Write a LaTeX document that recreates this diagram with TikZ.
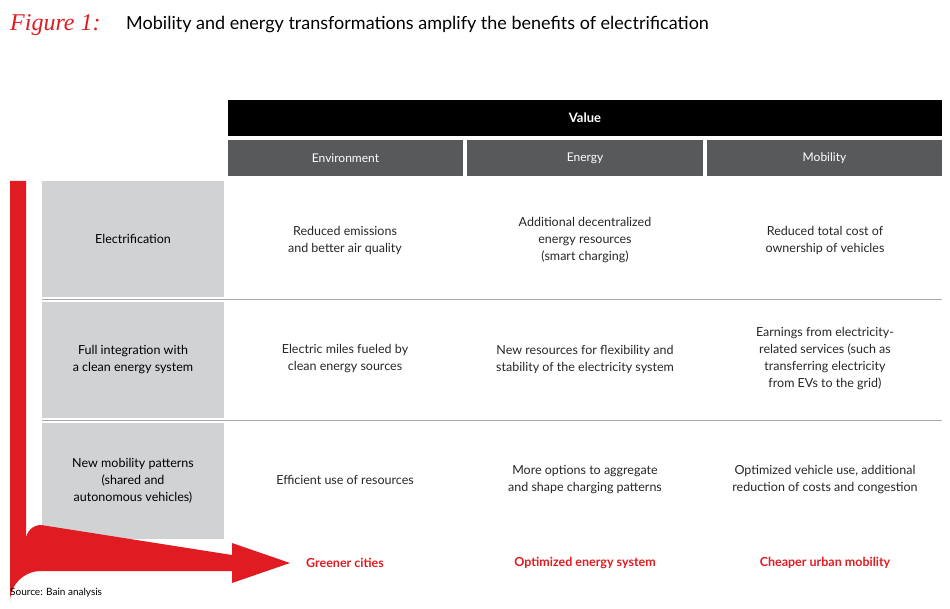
\documentclass[tikz,border=0pt]{standalone}
\usepackage{fontspec}
\setmainfont{Lato}
\newfontfamily\scriptf{Liberation Serif}
\usetikzlibrary{positioning}
\definecolor{bred}{HTML}{E11B22}
\definecolor{dgrey}{HTML}{58595B}
\definecolor{lgrey}{HTML}{D1D2D4}
\definecolor{lineg}{HTML}{A7A9AC}
\tikzset{
 hdr/.style={fill=dgrey,text=white,minimum height=36pt,inner sep=0pt,font=\fontsize{12}{14}\selectfont},
 rowlab/.style={fill=lgrey,minimum width=182pt,minimum height=116pt,inner sep=0pt,align=center,font=\fontsize{12.5}{17}\selectfont},
 cell/.style={align=center,font=\fontsize{12.5}{17}\selectfont,text=black!85},
 outc/.style={text=bred,font=\bfseries\fontsize{12.5}{15}\selectfont},
}
\begin{document}
\begin{tikzpicture}[x=1pt,y=-1pt]
\useasboundingbox (0,0) rectangle (950,609);
\node[anchor=west,inner sep=0pt] (fig) at (10,25) {\textcolor{bred}{\scriptf\itshape\fontsize{24}{26}\selectfont Figure 1:}};
\node[anchor=west,inner sep=0pt,font=\fontsize{18}{20}\selectfont] (title) at (126,25) {Mobility and energy transformations amplify the benefits of electrification};
\node[fill=black,text=white,minimum width=714pt,minimum height=36pt,inner sep=0pt,font=\bfseries\fontsize{13}{15}\selectfont] (value) at (585,118) {Value};
\node[hdr,minimum width=235pt] (env) at (345.5,158) {Environment};
\node[hdr,minimum width=236pt] (ene) at (585,158) {Energy};
\node[hdr,minimum width=235pt] (mob) at (824.5,158) {Mobility};
\node[rowlab] (r1) at (133,239) {Electrification};
\node[rowlab] (r2) at (133,360) {Full integration with\\a clean energy system};
\node[rowlab] (r3) at (133,481) {New mobility patterns\\(shared and\\autonomous vehicles)};
\draw[lineg,line width=0.8pt] (42,299.5) -- (942,299.5);
\draw[lineg,line width=0.8pt] (42,420.5) -- (942,420.5);
\node[cell] (c11) at (345,240) {Reduced emissions\\and better air quality};
\node[cell] (c12) at (585,240) {Additional decentralized\\energy resources\\(smart charging)};
\node[cell] (c13) at (825,240) {Reduced total cost of\\ownership of vehicles};
\node[cell] (c21) at (345,359) {Electric miles fueled by\\clean energy sources};
\node[cell] (c22) at (585,359) {New resources for flexibility and\\stability of the electricity system};
\node[cell] (c23) at (825,359) {Earnings from electricity-\\related services (such as\\transferring electricity\\from EVs to the grid)};
\node[cell] (c31) at (345,480) {Efficient use of resources};
\node[cell] (c32) at (585,480) {More options to aggregate\\and shape charging patterns};
\node[cell] (c33) at (825,480) {Optimized vehicle use, additional\\reduction of costs and congestion};
\fill[bred] (10,181) -- (26,181) -- (26,540) arc[start angle=180,end angle=90,x radius=15,y radius=-15] -- (232,555) -- (232,543) -- (290,563) -- (232,583) -- (232,571) -- (41,571) arc[start angle=90,end angle=180,x radius=31,y radius=-31] -- cycle;
\node[outc] (o1) at (345,563) {Greener cities};
\node[outc] (o2) at (585,563) {Optimized energy system};
\node[outc] (o3) at (825,563) {Cheaper urban mobility};
\node[anchor=west,inner sep=0pt,font=\fontsize{10}{12}\selectfont] (src) at (10,593) {Source: Bain analysis};
\end{tikzpicture}
\end{document}
